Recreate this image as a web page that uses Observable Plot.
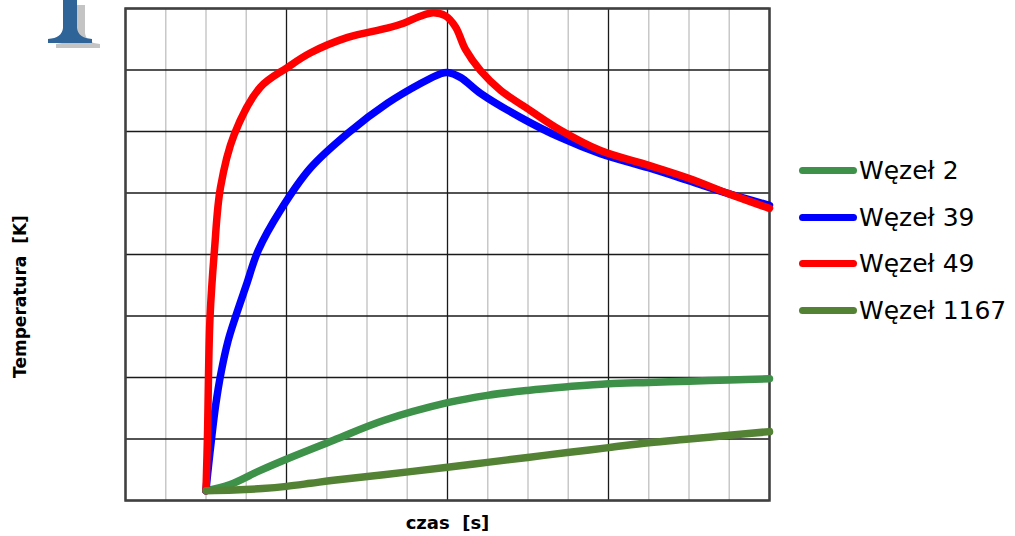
<!DOCTYPE html>
<html>
<head>
<meta charset="utf-8">
<script src="https://cdn.jsdelivr.net/npm/d3@7"></script>
<script src="https://cdn.jsdelivr.net/npm/@observablehq/plot@0.6"></script>
<style>
  html, body { margin: 0; padding: 0; background: #fff; }
  #wrap { position: relative; width: 1015px; height: 536px; overflow: hidden; }
  #chart svg { display: block; }
  .leg { position: absolute; left: 799px; font-family: "DejaVu Sans", sans-serif; font-size: 25px; color: #000; display: flex; align-items: center; height: 30px; white-space: nowrap; }
  .sw { width: 58px; height: 7px; border-radius: 4px; margin-right: 2px; }
  #logo { position: absolute; left: 0; top: 0; }
</style>
</head>
<body>
<div id="wrap">
  <svg id="logo" width="110" height="55" viewBox="0 0 110 55">
    <path d="M63,0 L77,0 L77,28 Q78,38 92,39 L92,43 L48,43 L48,39 Q62,38 63,28 Z" fill="#c4c4c4" transform="translate(8,5)"/>
    <path d="M63,0 L77,0 L77,28 Q78,38 92,39 L92,43 L48,43 L48,39 Q62,38 63,28 Z" fill="#2f6499"/>
  </svg>
  <div id="chart"></div>
</div>
<script>
// Series names and colours
const seriesNames = ["Węzeł 2", "Węzeł 39", "Węzeł 49", "Węzeł 1167"];
const seriesColors = ["#3d9149", "#0000ff", "#ff0000", "#548235"];

// Węzeł 2
const t2 = [2.0, 2.6, 3.35, 4.1, 5.17, 6.41, 8.0, 8.99, 9.99, 10.98, 12.0, 13.0, 14.0, 15.0, 16.0];
const v2 = [0.16, 0.26, 0.49, 0.7, 0.98, 1.3, 1.59, 1.71, 1.79, 1.85, 1.9, 1.92, 1.94, 1.96, 1.98];

// Węzeł 39
const t39 = [2.0, 2.03, 2.14, 2.24, 2.38, 2.55, 2.73, 3.0, 3.3, 3.85, 4.6, 5.52, 6.51, 7.33, 7.83, 8.0, 8.32, 8.82, 9.81, 10.81, 11.8, 12.99, 13.99, 14.98, 16.0];
const v39 = [0.16, 0.37, 1.02, 1.55, 2.1, 2.6, 2.98, 3.5, 4.07, 4.72, 5.41, 5.97, 6.46, 6.78, 6.94, 6.96, 6.88, 6.62, 6.23, 5.9, 5.64, 5.41, 5.2, 4.99, 4.8];

// Węzeł 49
const t49 = [2.0, 2.04, 2.06, 2.1, 2.21, 2.36, 2.7, 3.35, 4.02, 4.6, 5.52, 6.5, 6.91, 7.3, 7.65, 7.95, 8.2, 8.45, 8.82, 9.32, 10.06, 10.81, 11.8, 13.0, 13.99, 14.98, 16.0];
const v49 = [0.16, 1.14, 1.95, 2.98, 4.07, 5.09, 5.95, 6.72, 7.04, 7.28, 7.53, 7.68, 7.76, 7.87, 7.93, 7.88, 7.7, 7.33, 6.99, 6.67, 6.34, 6.02, 5.69, 5.45, 5.24, 4.99, 4.75];

// Węzeł 1167
const t1167 = [2.0, 2.7, 3.4, 4.0, 4.6, 5.17, 6.41, 8.0, 8.99, 9.99, 10.98, 12.0, 13.0, 14.0, 15.0, 16.0];
const v1167 = [0.16, 0.17, 0.195, 0.23, 0.28, 0.33, 0.42, 0.54, 0.62, 0.7, 0.78, 0.86, 0.94, 1.0, 1.06, 1.12];

// grid ticks
const xMinor = d3.range(0, 17);
const xMajor = [0, 4, 8, 12, 16];
const yMajor = d3.range(0, 9);

const xLabel = "czas\u00a0\u00a0[s]";
const yLabel = "Temperatura\u00a0\u00a0[K]";

const toRows = (ts, vs, name) => ts.map((t, i) => ({t, v: vs[i], name}));
const rows = {
  "Węzeł 2": toRows(t2, v2, "Węzeł 2"),
  "Węzeł 39": toRows(t39, v39, "Węzeł 39"),
  "Węzeł 49": toRows(t49, v49, "Węzeł 49"),
  "Węzeł 1167": toRows(t1167, v1167, "Węzeł 1167")
};
const drawOrder = ["Węzeł 2", "Węzeł 39", "Węzeł 49", "Węzeł 1167"];

const chart = Plot.plot({
  width: 1015,
  height: 536,
  marginLeft: 125,
  marginRight: 246,
  marginTop: 8,
  marginBottom: 36,
  x: {domain: [0, 16], axis: null},
  y: {domain: [0, 8], axis: null},
  color: {domain: seriesNames, range: seriesColors},
  style: {background: "transparent"},
  marks: [
    Plot.ruleX(xMinor.filter(d => !xMajor.includes(d)), {stroke: "#c8c8c8", strokeWidth: 1.5}),
    Plot.ruleX(xMajor, {stroke: "#1a1a1a", strokeWidth: 1.3}),
    Plot.ruleY(yMajor, {stroke: "#1a1a1a", strokeWidth: 1.3}),
    Plot.frame({stroke: "#404040", strokeWidth: 2.5}),
    ...drawOrder.map(n => Plot.line(rows[n], {
      x: "t", y: "v", stroke: "name", strokeWidth: 7.5, curve: "catmull-rom",
      strokeLinecap: "round", strokeLinejoin: "round"
    })),
    Plot.text([xLabel], {frameAnchor: "bottom", dy: 23, lineAnchor: "middle", fontWeight: "bold", fontSize: 18, fontFamily: "DejaVu Sans", fill: "#000"}),
    Plot.text([yLabel], {frameAnchor: "left", textAnchor: "middle", rotate: -90, dx: -105, dy: 42, lineAnchor: "middle", fontWeight: "bold", fontSize: 17, fontFamily: "DejaVu Sans", fill: "#000"})
  ]
});
document.getElementById("chart").appendChild(chart);

// legend
const legendCenters = [170, 217, 263, 310];
const wrap = document.getElementById("wrap");
seriesNames.forEach((n, i) => {
  const item = document.createElement("div");
  item.className = "leg";
  item.style.top = (legendCenters[i] - 15) + "px";
  const sw = document.createElement("div");
  sw.className = "sw";
  sw.style.background = seriesColors[i];
  item.appendChild(sw);
  const tx = document.createElement("span");
  tx.textContent = n;
  item.appendChild(tx);
  wrap.appendChild(item);
});
</script>
</body>
</html>
